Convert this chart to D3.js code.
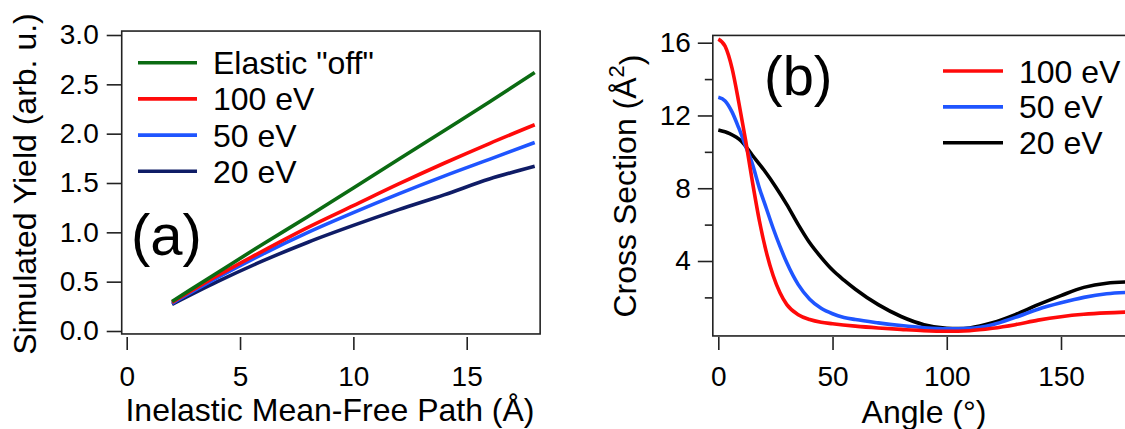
<!DOCTYPE html>
<html><head><meta charset="utf-8">
<script src="https://cdn.jsdelivr.net/npm/d3@7"></script>
<style>
html,body{margin:0;padding:0;background:#fff;}
svg text{font-family:"Liberation Sans",Arial,sans-serif;fill:#000;}
</style></head>
<body><svg id="c" width="1125" height="429"></svg>
<script>
// ---- Panel (a) data ----
const imfp = [2, 4, 6, 8, 10, 12, 14, 16, 18];
const yieldElasticOff = [0.30, 0.59, 0.88, 1.16, 1.45, 1.74, 2.03, 2.32, 2.62];
const yield100 = [0.29, 0.56, 0.81, 1.05, 1.27, 1.49, 1.70, 1.90, 2.09];
const yield50  = [0.28, 0.54, 0.78, 1.00, 1.20, 1.39, 1.57, 1.74, 1.91];
const yield20  = [0.27, 0.50, 0.71, 0.90, 1.07, 1.23, 1.38, 1.54, 1.67];
const seriesA = ["Elastic \"off\"", "100 eV", "50 eV", "20 eV"];
const colorsA = ["#0b6b12", "#ff0a0a", "#1f55ff", "#0f1c66"];
const xTicksA = [0, 5, 10, 15];
const yTicksA = [0, 0.5, 1, 1.5, 2, 2.5, 3];

// ---- Panel (b) data ----
const angRed   = [0,3,6,9,12,15,18,21,24,27,30,35,40,45,50,60,70,80,90,100,110,120,130,140,150,160,170,180];
const cs100    = [16.2,15.8,14.6,12.7,10.6,8.3,6.2,4.5,3.2,2.25,1.6,1.05,0.78,0.63,0.55,0.42,0.32,0.24,0.17,0.14,0.17,0.3,0.5,0.75,0.94,1.07,1.15,1.2];
const angBlue  = [0,3,6,9,12,15,18,21,24,27,30,35,40,45,50,55,60,70,80,90,100,110,120,130,140,150,160,170,180];
const cs50     = [13.0,12.8,12.2,11.3,10.3,9.3,8.0,6.9,5.8,4.8,3.9,2.7,1.9,1.4,1.1,0.9,0.78,0.6,0.45,0.33,0.27,0.3,0.5,0.9,1.35,1.7,2.0,2.2,2.28];
const angBlack = [0,5,10,15,20,25,30,35,40,45,50,55,60,70,80,90,100,105,110,120,130,140,150,160,170,180];
const cs20     = [11.2,11.0,10.6,9.8,9.0,8.1,7.1,6.0,5.0,4.2,3.5,2.95,2.45,1.6,0.95,0.5,0.3,0.28,0.32,0.6,1.05,1.6,2.1,2.55,2.78,2.85];
const seriesB = ["100 eV", "50 eV", "20 eV"];
const colorsB = ["#ff0a0a", "#1f55ff", "#000000"];
const xTicksB = [0, 50, 100, 150];
const yTicksBMajor = [4, 8, 12, 16];
const yTicksBMinor = [2, 6, 10, 14];

const svg = d3.select("#c");
const lw = 3.6;
const tickFont = "28px", titleFont = "32px", legFont = "32px";

// ================= Panel (a) =================
const xA = d3.scaleLinear().domain([0, 18]).range([126.7, 534.7]);
const yA = d3.scaleLinear().domain([0, 3]).range([331, 35]);
const gA = svg.append("g");
gA.append("rect")
  .attr("x", xA(-0.22)).attr("y", yA(3.04))
  .attr("width", xA(18.24) - xA(-0.22)).attr("height", yA(-0.03) - yA(3.04))
  .attr("fill", "none").attr("stroke", "#222").attr("stroke-width", 1.6);

const yAxA = gA.append("g").attr("transform", `translate(${xA(-0.22)},0)`)
  .call(d3.axisLeft(yA).tickValues(yTicksA).tickFormat(d3.format(".1f")).tickSize(15).tickPadding(8));
const xAxA = gA.append("g").attr("transform", `translate(0,337)`)
  .call(d3.axisBottom(xA).tickValues(xTicksA).tickFormat(d3.format("d")).tickSize(13).tickPadding(16));
[yAxA, xAxA].forEach(ax => {
  ax.select(".domain").remove();
  ax.selectAll(".tick line").attr("stroke", "#222").attr("stroke-width", 1.6);
  ax.selectAll(".tick text").style("font-size", tickFont).attr("fill", "#111");
});

const dataA = [yieldElasticOff, yield100, yield50, yield20];
const lineA = d3.line().x(d => xA(d[0])).y(d => yA(d[1])).curve(d3.curveMonotoneX);
[3, 2, 1, 0].forEach(i => {
  gA.append("path").datum(imfp.map((x, k) => [x, dataA[i][k]]))
    .attr("d", lineA).attr("fill", "none").attr("stroke", colorsA[i])
    .attr("stroke-width", lw).attr("stroke-linejoin", "round");
});

seriesA.forEach((s, i) => {
  const cy = 62.7 + i * 36.2;
  gA.append("line").attr("x1", 138).attr("x2", 197).attr("y1", cy).attr("y2", cy)
    .attr("stroke", colorsA[i]).attr("stroke-width", lw);
  gA.append("text").attr("x", 213).attr("y", cy + 11.5).style("font-size", legFont).text(s);
});
gA.append("text").attr("x", 131).attr("y", 255).style("font-size", "58px").text("(a)");
gA.append("text").attr("x", 330).attr("y", 421).attr("text-anchor", "middle")
  .style("font-size", titleFont).text("Inelastic Mean-Free Path (Å)");
gA.append("text").attr("transform", "translate(36,184) rotate(-90)").attr("text-anchor", "middle")
  .style("font-size", titleFont).text("Simulated Yield (arb. u.)");

// ================= Panel (b) =================
const xB = d3.scaleLinear().domain([0, 150]).range([718.3, 1061]);
const yB = d3.scaleLinear().domain([4, 16]).range([261, 42.7]);
const gB = svg.append("g");
gB.append("rect")
  .attr("x", xB(-2.4)).attr("y", yB(16.4))
  .attr("width", xB(182) - xB(-2.4)).attr("height", yB(-0.12) - yB(16.4))
  .attr("fill", "none").attr("stroke", "#222").attr("stroke-width", 1.6);

const yAxBMin = gB.append("g").attr("transform", `translate(${xB(-2.4)},0)`)
  .call(d3.axisLeft(yB).tickValues(yTicksBMinor).tickFormat("").tickSize(8));
const yAxB = gB.append("g").attr("transform", `translate(${xB(-2.4)},0)`)
  .call(d3.axisLeft(yB).tickValues(yTicksBMajor).tickFormat(d3.format("d")).tickSize(15).tickPadding(7));
const xAxB = gB.append("g").attr("transform", `translate(0,337)`)
  .call(d3.axisBottom(xB).tickValues(xTicksB).tickFormat(d3.format("d")).tickSize(13).tickPadding(16));
[yAxBMin, yAxB, xAxB].forEach(ax => {
  ax.select(".domain").remove();
  ax.selectAll(".tick line").attr("stroke", "#222").attr("stroke-width", 1.6);
  ax.selectAll(".tick text").style("font-size", tickFont).attr("fill", "#111");
});

const lineB = d3.line().x(d => xB(d[0])).y(d => yB(d[1])).curve(d3.curveMonotoneX);
const dataB = [[angRed, cs100], [angBlue, cs50], [angBlack, cs20]];
[2, 1, 0].forEach(i => {
  const [xs, ys] = dataB[i];
  gB.append("path").datum(xs.map((x, k) => [x, ys[k]]))
    .attr("d", lineB).attr("fill", "none").attr("stroke", colorsB[i])
    .attr("stroke-width", lw).attr("stroke-linejoin", "round");
});

seriesB.forEach((s, i) => {
  const cy = 71 + i * 35.9;
  gB.append("line").attr("x1", 943).attr("x2", 1003).attr("y1", cy).attr("y2", cy)
    .attr("stroke", colorsB[i]).attr("stroke-width", lw);
  gB.append("text").attr("x", 1019).attr("y", cy + 11.5).style("font-size", legFont).text(s);
});
gB.append("text").attr("x", 764).attr("y", 95).style("font-size", "56px").text("(b)");
gB.append("text").attr("x", 924).attr("y", 423).attr("text-anchor", "middle")
  .style("font-size", titleFont).text("Angle (°)");
const yt = gB.append("text").attr("transform", "translate(636,186) rotate(-90)").attr("text-anchor", "middle")
  .style("font-size", titleFont);
yt.append("tspan").text("Cross Section (Å");
yt.append("tspan").attr("dy", "-0.55em").style("font-size", "22px").text("2");
yt.append("tspan").attr("dy", "0.55em").text(")");
</script></body></html>
